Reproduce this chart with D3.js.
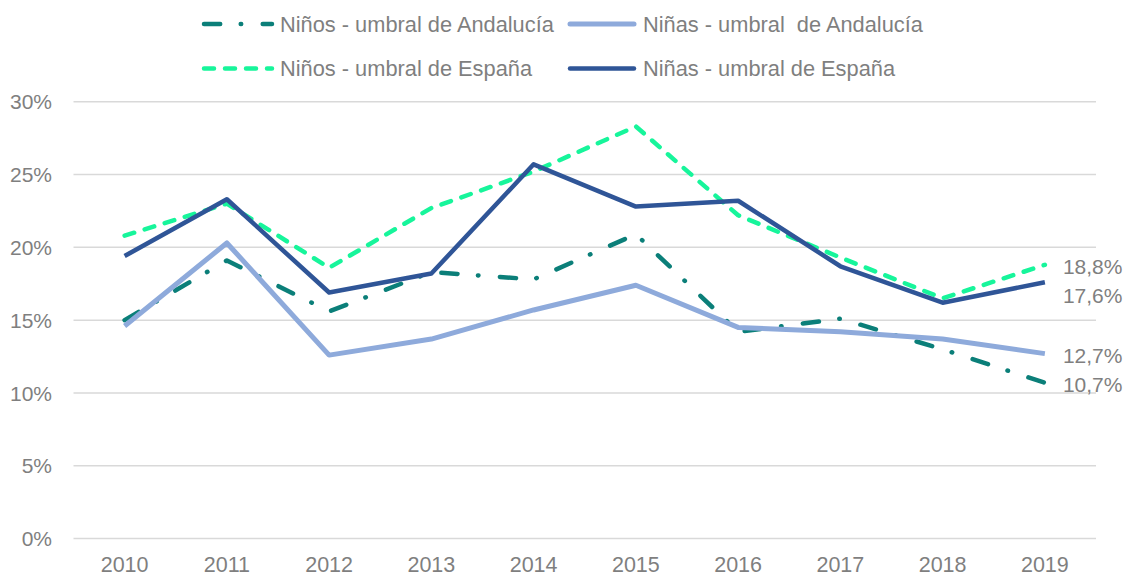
<!DOCTYPE html>
<html>
<head>
<meta charset="utf-8">
<script src="https://cdn.jsdelivr.net/npm/d3@7"></script>
<style>
  html, body { margin: 0; padding: 0; background: #fff; }
  svg { display: block; }
  text { font-family: "Liberation Sans", Arial, sans-serif; fill: #7f7f7f; }
</style>
</head>
<body>
<svg id="chart" width="1125" height="577"></svg>
<script>
// ---- Data ----
const years = ["2010","2011","2012","2013","2014","2015","2016","2017","2018","2019"];
const ninosAndalucia = [15.0, 19.1, 15.6, 18.3, 17.8, 20.9, 14.2, 15.1, 13.0, 10.7];
const ninasAndalucia = [14.6, 20.3, 12.6, 13.7, 15.7, 17.4, 14.5, 14.2, 13.7, 12.7];
const ninosEspana    = [20.8, 23.0, 18.6, 22.7, 25.2, 28.3, 22.2, 19.3, 16.5, 18.8];
const ninasEspana    = [19.4, 23.3, 16.9, 18.2, 25.7, 22.8, 23.2, 18.7, 16.2, 17.6];
const seriesNames = [
  "Niños - umbral de Andalucía",
  "Niñas - umbral  de Andalucía",
  "Niños - umbral de España",
  "Niñas - umbral de España"
];
const yTicks = [0, 5, 10, 15, 20, 25, 30];

// ---- Styles ----
const styles = [
  { color: "#0b7f79", width: 4.5, dash: "16.2,20.5,0.5,21.5" },
  { color: "#8eaadb", width: 5,   dash: null },
  { color: "#17f59b", width: 4.5, dash: "10,11" },
  { color: "#2f5597", width: 4.5, dash: null }
];
const seriesValues = [ninosAndalucia, ninasAndalucia, ninosEspana, ninasEspana];

const svg = d3.select("#chart");

const x = d3.scaleBand().domain(years).range([73.5, 1096]).paddingInner(0).paddingOuter(0);
const y = d3.scaleLinear().domain([0, 30]).range([538.6, 101.7]);
const cx = d => x(d) + x.bandwidth() / 2;

// gridlines
svg.append("g").selectAll("line").data(yTicks).join("line")
  .attr("x1", 73.5).attr("x2", 1096)
  .attr("y1", d => y(d)).attr("y2", d => y(d))
  .attr("stroke", "#d9d9d9").attr("stroke-width", 1.5);

// y labels
svg.append("g").selectAll("text").data(yTicks).join("text")
  .attr("x", 52).attr("y", d => y(d)).attr("dy", "0.36em")
  .attr("text-anchor", "end").style("font-size", "21px")
  .text(d => d + "%");

// x labels
svg.append("g").selectAll("text").data(years).join("text")
  .attr("x", d => cx(d)).attr("y", 572)
  .attr("text-anchor", "middle").style("font-size", "21.5px")
  .text(d => d);

// lines
const line = d3.line().x((d, i) => cx(years[i])).y(d => y(d));
seriesValues.forEach((vals, k) => {
  const st = styles[k];
  const p = svg.append("path").datum(vals)
    .attr("d", line)
    .attr("fill", "none")
    .attr("stroke", st.color)
    .attr("stroke-width", st.width)
    .attr("stroke-linejoin", "round")
    .attr("stroke-linecap", st.dash ? "round" : "butt");
  if (st.dash) p.attr("stroke-dasharray", st.dash);
});

// end labels (resolve overlap by pushing lower labels down)
const lastX = cx(years[years.length - 1]);
let labels = seriesValues.map(v => ({ v: v[v.length - 1], y: y(v[v.length - 1]) }));
labels.sort((a, b) => a.y - b.y);
for (let i = 1; i < labels.length; i++) {
  if (labels[i].y - labels[i - 1].y < 29.5) labels[i].y = labels[i - 1].y + 29.5;
}
svg.append("g").selectAll("text").data(labels).join("text")
  .attr("x", lastX + 18).attr("y", d => d.y + 1.5).attr("dy", "0.36em")
  .style("font-size", "21px")
  .text(d => d3.format(".1f")(d.v).replace(".", ",") + "%");

// legend
const legPos = [
  { x1: 204, x2: 272, tx: 280, y: 24 },
  { x1: 570, x2: 634, tx: 643, y: 24 },
  { x1: 204, x2: 272, tx: 280, y: 68.5 },
  { x1: 570, x2: 634, tx: 643, y: 68.5 }
];
seriesNames.forEach((name, k) => {
  const st = styles[k], lp = legPos[k];
  const l = svg.append("line")
    .attr("x1", lp.x1).attr("x2", lp.x2).attr("y1", lp.y).attr("y2", lp.y)
    .attr("stroke", st.color).attr("stroke-width", st.width)
    .attr("stroke-linecap", "round");
  if (st.dash) l.attr("stroke-dasharray", st.dash);
  svg.append("text").attr("x", lp.tx).attr("y", lp.y).attr("dy", "0.36em")
    .style("font-size", "21.8px").style("white-space", "pre")
    .attr("xml:space", "preserve")
    .text(name);
});
</script>
</body>
</html>
